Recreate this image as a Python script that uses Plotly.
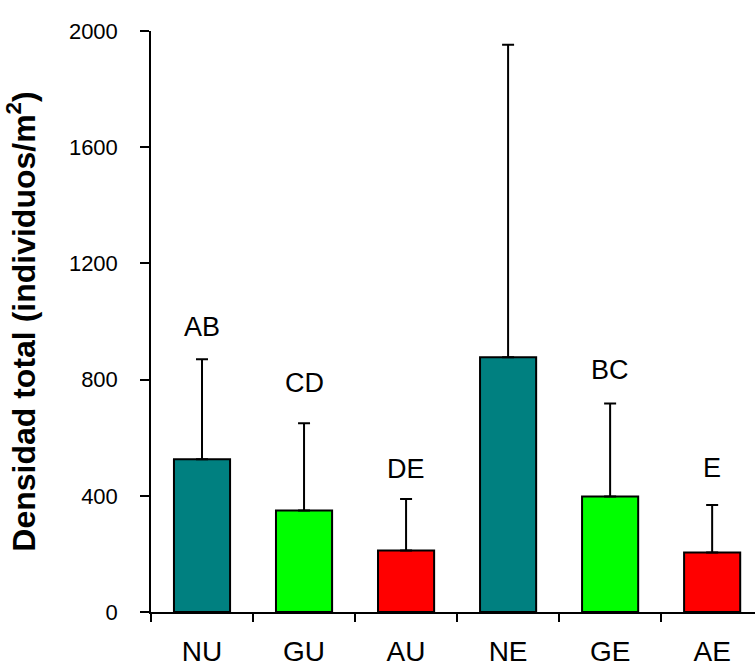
import plotly.graph_objects as go

categories = ["NU", "GU", "AU", "NE", "GE", "AE"]
means = [526, 349, 212, 877, 398, 205]
upper = [870, 650, 389, 1953, 718, 368]
colors = ["#008080", "#00FF00", "#FF0000", "#008080", "#00FF00", "#FF0000"]
letters = ["AB", "CD", "DE", "A", "BC", "E"]
letter_y = [980, 787, 491, 2045, 832, 494]
yticks = [0, 400, 800, 1200, 1600, 2000]

err = [u - m for u, m in zip(upper, means)]

fig = go.Figure()
fig.add_trace(go.Bar(
    x=categories, y=means, width=0.55,
    marker=dict(color=colors, line=dict(color="black", width=2)),
    error_y=dict(type="data", array=err, symmetric=False, arrayminus=[0]*6,
                 color="black", thickness=2, width=6),
    cliponaxis=False,
))
for c, t, yv in zip(categories, letters, letter_y):
    fig.add_annotation(x=c, y=yv, text=t, showarrow=False,
                       font=dict(family="Liberation Sans, Arial", size=27, color="black"))

fig.update_layout(
    width=755, height=669,
    margin=dict(l=151, r=0, t=31, b=57),
    plot_bgcolor="white", paper_bgcolor="white",
    showlegend=False,
    font=dict(family="Liberation Sans, Arial", color="black"),
    xaxis=dict(range=[-0.5, 5.42], showline=True, linecolor="black", linewidth=1.5,
               ticks="outside", tickson="boundaries", ticklen=8, tickwidth=1.5,
               tickcolor="black", tickfont=dict(size=28), showgrid=False,
               ticklabelstandoff=14),
    yaxis=dict(range=[0, 2000], tickvals=yticks, showline=True, linecolor="black",
               linewidth=1.5, ticks="outside", ticklen=9, tickwidth=1.5, tickcolor="black",
               tickfont=dict(size=22), showgrid=False, zeroline=False,
               ticklabelstandoff=18,
               title=dict(text="<b>Densidad total (individuos/m<sup>2</sup>)</b>",
                          font=dict(size=32), standoff=24)),
)
fig.write_html("out.html")
